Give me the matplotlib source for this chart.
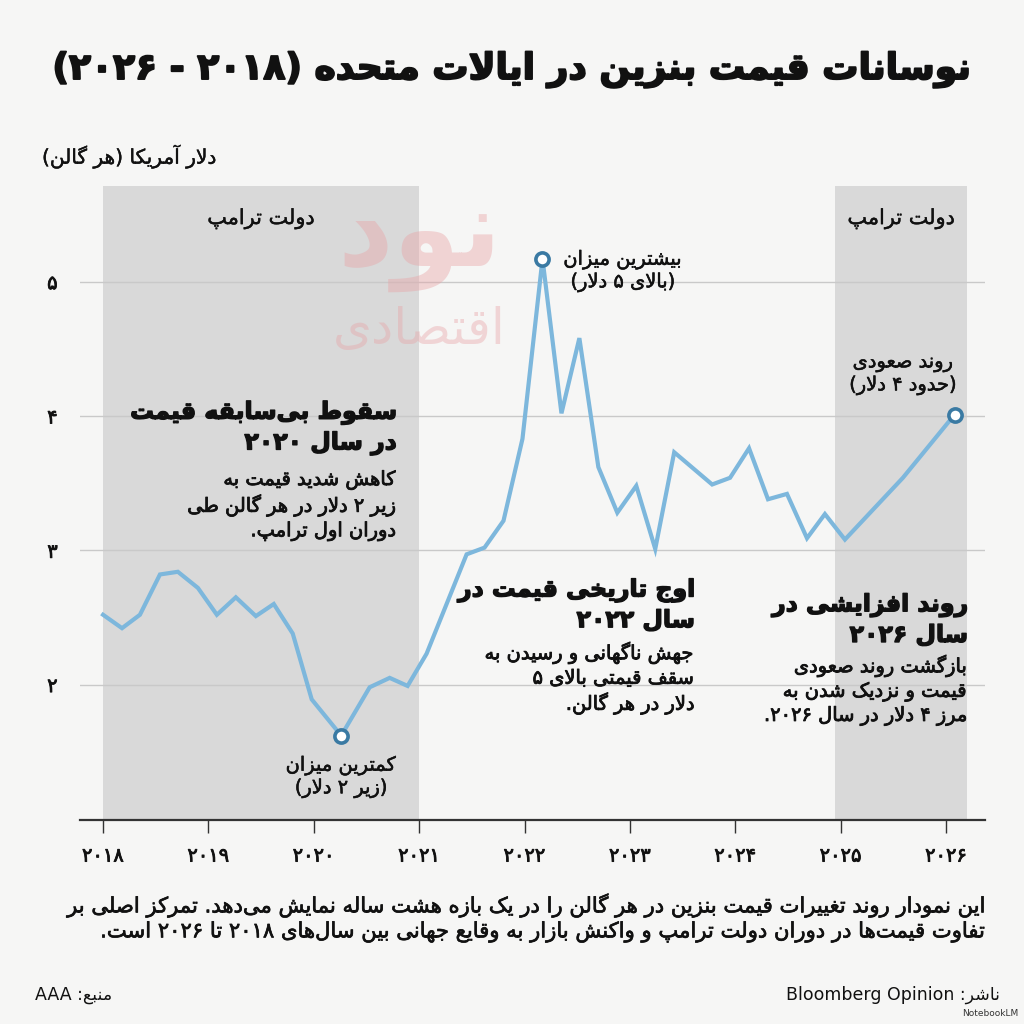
import re
import matplotlib
matplotlib.use("Agg")
import matplotlib.pyplot as plt
import matplotlib.patheffects as pe

# ---- data ----
years = [2018.0, 2018.18, 2018.35, 2018.54, 2018.71, 2018.90, 2019.08, 2019.26,
         2019.45, 2019.62, 2019.80, 2019.98, 2020.26, 2020.53, 2020.72, 2020.89,
         2021.07, 2021.26, 2021.45, 2021.62, 2021.80, 2021.98, 2022.17, 2022.35,
         2022.52, 2022.70, 2022.88, 2023.06, 2023.24, 2023.42, 2023.78, 2023.95,
         2024.13, 2024.31, 2024.49, 2024.68, 2024.85, 2025.04, 2025.59, 2026.08]
prices = [2.52, 2.42, 2.52, 2.82, 2.84, 2.72, 2.52, 2.65,
          2.51, 2.60, 2.38, 1.89, 1.62, 1.98, 2.05, 1.99,
          2.23, 2.60, 2.97, 3.02, 3.22, 3.83, 5.17, 4.02,
          4.58, 3.62, 3.28, 3.48, 3.01, 3.73, 3.49, 3.54,
          3.76, 3.38, 3.42, 3.09, 3.27, 3.08, 3.54, 4.01]

trump_terms = [(2018.0, 2021.0), (2024.95, 2026.2)]
year_ticks = [2018, 2019, 2020, 2021, 2022, 2023, 2024, 2025, 2026]
price_ticks = [2, 3, 4, 5]

title = "نوسانات قیمت بنزین در ایالات متحده (۲۰۱۸ - ۲۰۲۶)"
ylabel = "دلار آمریکا (هر گالن)"
term_label = "دولت ترامپ"
peak_label = "بیشترین میزان\n(بالای ۵ دلار)"
min_label = "کمترین میزان\n(زیر ۲ دلار)"
end_label = "روند صعودی\n(حدود ۴ دلار)"
notes = [
    ("سقوط بی\u200cسابقه قیمت\nدر سال ۲۰۲۰",
     "کاهش شدید قیمت به\nزیر ۲ دلار در هر گالن طی\nدوران اول ترامپ."),
    ("اوج تاریخی قیمت در\nسال ۲۰۲۲",
     "جهش ناگهانی و رسیدن به\nسقف قیمتی بالای ۵\nدلار در هر گالن."),
    ("روند افزایشی در\nسال ۲۰۲۶",
     "بازگشت روند صعودی\nقیمت و نزدیک شدن به\nمرز ۴ دلار در سال ۲۰۲۶."),
]
footer = ("این نمودار روند تغییرات قیمت بنزین در هر گالن را در یک بازه هشت ساله نمایش می\u200cدهد. تمرکز اصلی بر\n"
          "تفاوت قیمت\u200cها در دوران دولت ترامپ و واکنش بازار به وقایع جهانی بین سال\u200cهای ۲۰۱۸ تا ۲۰۲۶ است.")
source = "منبع: AAA"
publisher = "ناشر: Bloomberg Opinion"

# ---- minimal Persian shaping + RTL ordering (matplotlib has no text shaping) ----
FORMS = {
    '\u0621': ('\uFE80',),
    '\u0622': ('\uFE81', '\uFE82'), '\u0623': ('\uFE83', '\uFE84'),
    '\u0624': ('\uFE85', '\uFE86'), '\u0625': ('\uFE87', '\uFE88'),
    '\u0626': ('\uFE89', '\uFE8A', '\uFE8B', '\uFE8C'),
    '\u0627': ('\uFE8D', '\uFE8E'),
    '\u0628': ('\uFE8F', '\uFE90', '\uFE91', '\uFE92'),
    '\u0629': ('\uFE93', '\uFE94'),
    '\u062A': ('\uFE95', '\uFE96', '\uFE97', '\uFE98'),
    '\u062B': ('\uFE99', '\uFE9A', '\uFE9B', '\uFE9C'),
    '\u062C': ('\uFE9D', '\uFE9E', '\uFE9F', '\uFEA0'),
    '\u062D': ('\uFEA1', '\uFEA2', '\uFEA3', '\uFEA4'),
    '\u062E': ('\uFEA5', '\uFEA6', '\uFEA7', '\uFEA8'),
    '\u062F': ('\uFEA9', '\uFEAA'), '\u0630': ('\uFEAB', '\uFEAC'),
    '\u0631': ('\uFEAD', '\uFEAE'), '\u0632': ('\uFEAF', '\uFEB0'),
    '\u0633': ('\uFEB1', '\uFEB2', '\uFEB3', '\uFEB4'),
    '\u0634': ('\uFEB5', '\uFEB6', '\uFEB7', '\uFEB8'),
    '\u0635': ('\uFEB9', '\uFEBA', '\uFEBB', '\uFEBC'),
    '\u0636': ('\uFEBD', '\uFEBE', '\uFEBF', '\uFEC0'),
    '\u0637': ('\uFEC1', '\uFEC2', '\uFEC3', '\uFEC4'),
    '\u0638': ('\uFEC5', '\uFEC6', '\uFEC7', '\uFEC8'),
    '\u0639': ('\uFEC9', '\uFECA', '\uFECB', '\uFECC'),
    '\u063A': ('\uFECD', '\uFECE', '\uFECF', '\uFED0'),
    '\u0641': ('\uFED1', '\uFED2', '\uFED3', '\uFED4'),
    '\u0642': ('\uFED5', '\uFED6', '\uFED7', '\uFED8'),
    '\u0643': ('\uFED9', '\uFEDA', '\uFEDB', '\uFEDC'),
    '\u0644': ('\uFEDD', '\uFEDE', '\uFEDF', '\uFEE0'),
    '\u0645': ('\uFEE1', '\uFEE2', '\uFEE3', '\uFEE4'),
    '\u0646': ('\uFEE5', '\uFEE6', '\uFEE7', '\uFEE8'),
    '\u0647': ('\uFEE9', '\uFEEA', '\uFEEB', '\uFEEC'),
    '\u0648': ('\uFEED', '\uFEEE'),
    '\u0649': ('\uFEEF', '\uFEF0'),
    '\u064A': ('\uFEF1', '\uFEF2', '\uFEF3', '\uFEF4'),
    '\u067E': ('\uFB56', '\uFB57', '\uFB58', '\uFB59'),
    '\u0686': ('\uFB7A', '\uFB7B', '\uFB7C', '\uFB7D'),
    '\u0698': ('\uFB8A', '\uFB8B'),
    '\u06A9': ('\uFB8E', '\uFB8F', '\uFB90', '\uFB91'),
    '\u06AF': ('\uFB92', '\uFB93', '\uFB94', '\uFB95'),
    '\u06CC': ('\uFBFC', '\uFBFD', '\uFBFE', '\uFBFF'),
}
LAM_ALEF = {'\u0627': ('\uFEFB', '\uFEFC'), '\u0622': ('\uFEF5', '\uFEF6'),
            '\u0623': ('\uFEF7', '\uFEF8'), '\u0625': ('\uFEF9', '\uFEFA')}
MIRROR = {'(': ')', ')': '('}


def shape(s):
    out = []
    i = 0
    n = len(s)
    while i < n:
        c = s[i]
        if c not in FORMS:
            if c != '\u200c':
                out.append(c)
            i += 1
            continue
        prev = s[i - 1] if i > 0 else ''
        joins_prev = prev in FORMS and len(FORMS[prev]) == 4
        if c == '\u0644' and i + 1 < n and s[i + 1] in LAM_ALEF:
            out.append(LAM_ALEF[s[i + 1]][1 if joins_prev else 0])
            i += 2
            continue
        nxt = s[i + 1] if i + 1 < n else ''
        f = FORMS[c]
        joins_next = len(f) == 4 and nxt in FORMS
        if joins_prev and len(f) >= 2:
            out.append(f[3] if joins_next else f[1])
        else:
            out.append(f[2] if joins_next else f[0])
        i += 1
    return ''.join(out)


LTR_RUN = re.compile(r'[A-Za-z0-9\u06F0-\u06F9]+(?: [A-Za-z0-9\u06F0-\u06F9]+)*')


def fa(text):
    lines = []
    for line in text.split('\n'):
        s = shape(line)
        runs = []
        pos = 0
        for m in LTR_RUN.finditer(s):
            if m.start() > pos:
                runs.append(('r', s[pos:m.start()]))
            runs.append(('l', m.group()))
            pos = m.end()
        if pos < len(s):
            runs.append(('r', s[pos:]))
        vis = []
        for kind, t in reversed(runs):
            if kind == 'l':
                vis.append(t)
            else:
                vis.append(''.join(MIRROR.get(ch, ch) for ch in reversed(t)))
        lines.append(''.join(vis))
    return '\n'.join(lines)


def fa_digits(v):
    return ''.join(chr(0x06F0 + int(d)) for d in str(v))


def stroke(w):
    return [pe.withStroke(linewidth=w, foreground=INK)]


# ---- figure ----
plt.rcParams['font.family'] = ['DejaVu Sans']
BG = '#f6f6f5'
SHADE = '#d9d9d9'
LINE = '#7db7dc'
MARK = '#3a7aa3'
INK = '#111111'
LOGO = '#e8a3a6'

fig = plt.figure(figsize=(10.24, 10.24), dpi=100, facecolor=BG)
ax = fig.add_axes([0.078, 0.199, 0.884, 0.619])
ax.set_facecolor(BG)

for start, end in trump_terms:
    ax.axvspan(start, end, color=SHADE, lw=0, zorder=0)
for p in price_ticks:
    ax.axhline(p, color='#c9c9c9', lw=1.0, zorder=1)

ax.plot(years, prices, color=LINE, lw=3.0, solid_joinstyle='miter', zorder=3)

i_peak = prices.index(max(prices))
i_min = prices.index(min(prices))
i_end = len(prices) - 1
for i in (i_peak, i_min, i_end):
    ax.plot(years[i], prices[i], 'o', ms=9.5, mfc='white', mec=MARK, mew=2.6, zorder=4)

ax.set_xlim(2017.78, 2026.37)
ax.set_ylim(0.99, 5.71)
ax.set_xticks(year_ticks)
ax.set_xticklabels([fa_digits(y) for y in year_ticks], fontsize=14, color=INK)
ax.set_yticks(price_ticks)
ax.set_yticklabels([fa_digits(p) for p in price_ticks], fontsize=14, color=INK)
ax.tick_params(axis='x', direction='out', length=9, width=1.0, color='#333333', pad=10)
ax.tick_params(axis='y', length=0, pad=16)
for side in ('top', 'right', 'left'):
    ax.spines[side].set_visible(False)
ax.spines['bottom'].set_color('#333333')
ax.spines['bottom'].set_linewidth(1.6)
for lab in ax.get_xticklabels() + ax.get_yticklabels():
    lab.set_path_effects(stroke(0.6))

# watermark logo
ax.text(2021.0, 5.31, fa("نود"), fontsize=78, fontweight='bold', color=LOGO,
        alpha=0.42, ha='center', va='center', zorder=2)
ax.text(2021.0, 4.64, fa("اقتصادی"), fontsize=36, color=LOGO,
        alpha=0.40, ha='center', va='center', zorder=2)

# term labels
for start, end in trump_terms:
    ax.text((start + end) / 2, 5.47, fa(term_label), fontsize=15, color=INK,
            ha='center', va='center', zorder=5, path_effects=stroke(0.3))

# point annotations
for i, label, off in ((i_peak, peak_label, (58, -9)),
                      (i_min, min_label, (0, -30)),
                      (i_end, end_label, (-37, 29))):
    ax.annotate(fa(label), (years[i], prices[i]), xytext=off,
                textcoords='offset points', ha='center', va='center', fontsize=14,
                color=INK, linespacing=1.2, zorder=5, path_effects=stroke(0.4))

# callout blocks (heading + body), right aligned
note_pos = [(2020.79, 3.91, 3.33), (2023.62, 2.59, 2.045), (2026.21, 2.48, 1.955)]
for (head, body), (x, yh, yb) in zip(notes, note_pos):
    ax.text(x, yh, fa(head), ha='right', va='center', fontsize=17, fontweight='bold',
            color=INK, linespacing=1.3, zorder=5, path_effects=stroke(1.0))
    ax.text(x, yb, fa(body), ha='right', va='center', fontsize=14, color=INK,
            linespacing=1.3, zorder=5, path_effects=stroke(0.6))

# titles and footer
fig.text(0.5, 1 - 70 / 1024, fa(title), ha='center', va='center', fontsize=26,
         fontweight='bold', color=INK, path_effects=stroke(1.4))
fig.text(42 / 1024, 1 - 157 / 1024, fa(ylabel), ha='left', va='center', fontsize=14.5,
         color=INK, path_effects=stroke(0.3))
fig.text(985 / 1024, 1 - 918 / 1024, fa(footer), ha='right', va='center', fontsize=15.2,
         color=INK, linespacing=1.25, path_effects=stroke(0.5))
fig.text(35 / 1024, 1 - 995 / 1024, fa(source), ha='left', va='center', fontsize=12.5, color=INK)
fig.text(1000 / 1024, 1 - 995 / 1024, fa(publisher), ha='right', va='center', fontsize=12.5, color=INK)
fig.text(1018 / 1024, 1 - 1013 / 1024, "NotebookLM", ha='right', va='center', fontsize=6.5, color='#333333')

fig.savefig("out.png", dpi=100, facecolor=BG)
